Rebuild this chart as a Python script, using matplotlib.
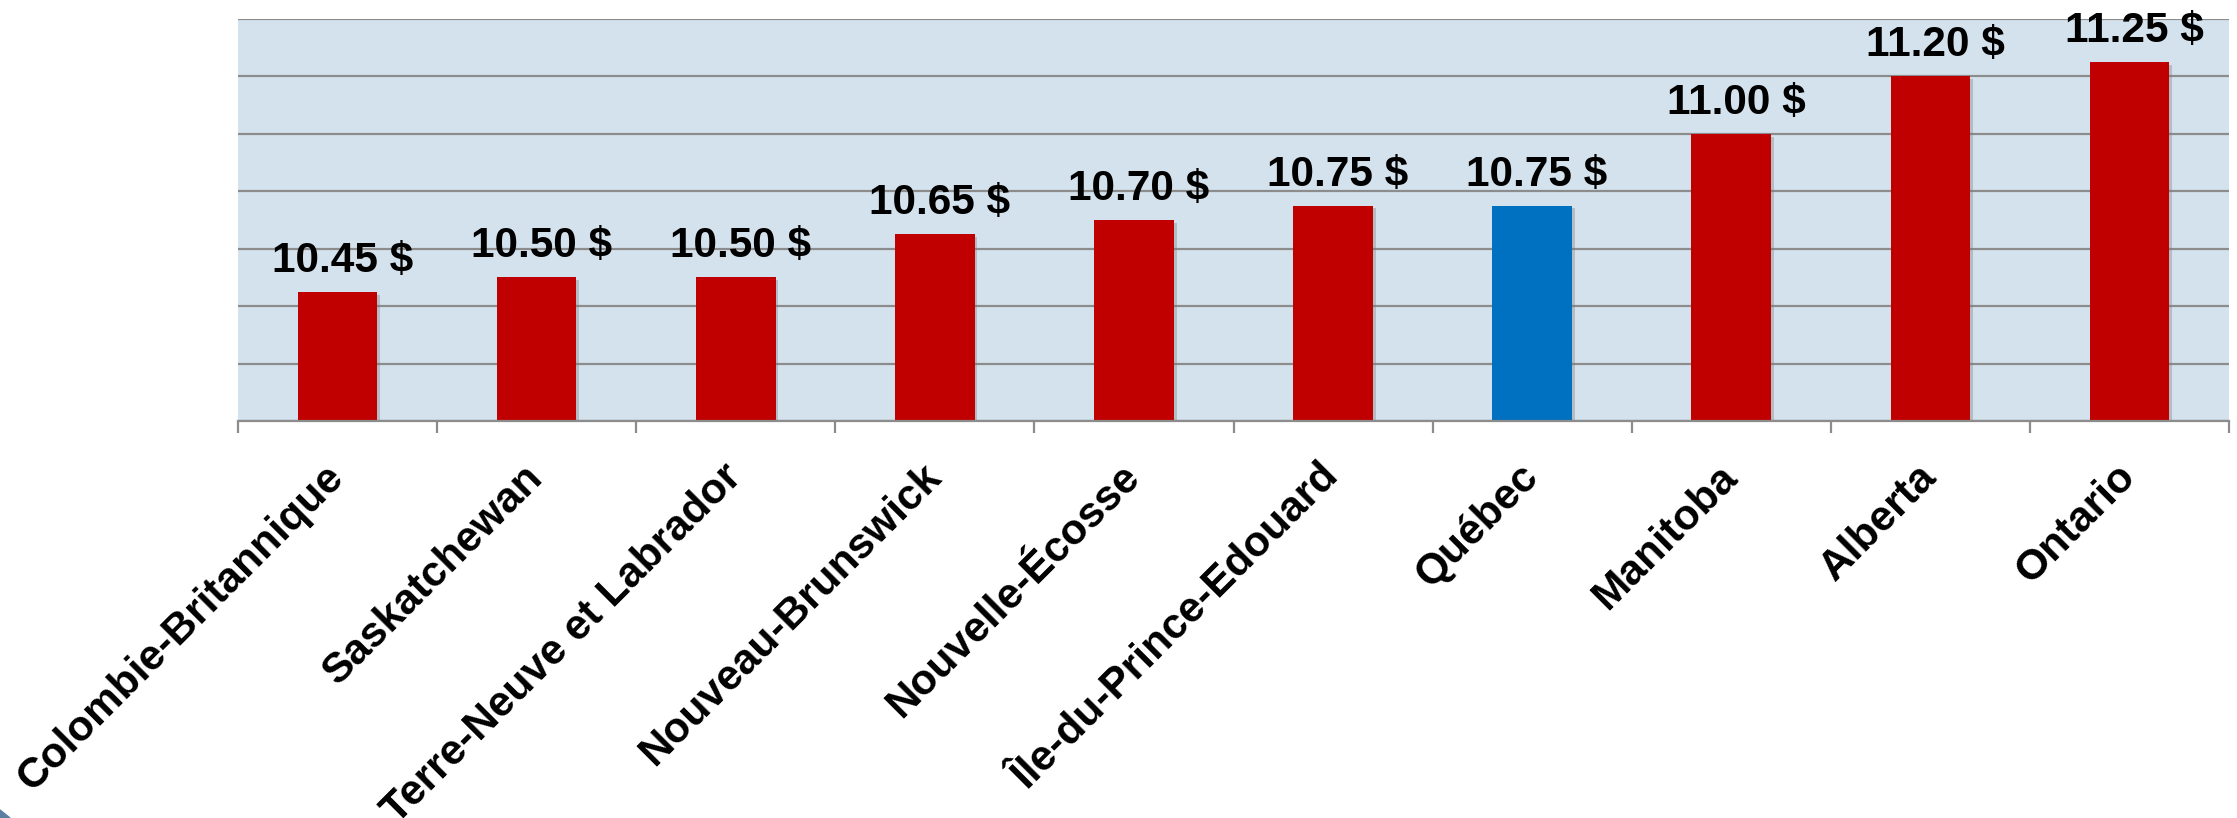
import numpy as np
import matplotlib
matplotlib.use("Agg")
import matplotlib.pyplot as plt
import matplotlib.patheffects as pe

# ---- data ----
provinces = ["Colombie-Britannique", "Saskatchewan", "Terre-Neuve et Labrador",
             "Nouveau-Brunswick", "Nouvelle-Écosse", "Île-du-Prince-Edouard",
             "Québec", "Manitoba", "Alberta", "Ontario"]
wages = [10.45, 10.50, 10.50, 10.65, 10.70, 10.75, 10.75, 11.00, 11.20, 11.25]
highlight = "Québec"

RED = "#C00000"
BLUE = "#0070C0"
BG = "#D4E2ED"
GRID = "#8C8C8C"

plt.rcParams['font.family'] = ['Liberation Sans', 'DejaVu Sans']

W, H, DPI = 2237, 818, 100
fig = plt.figure(figsize=(W / DPI, H / DPI), dpi=DPI)
fig.patch.set_facecolor("white")

left, right, top, bottom = 238, 2229, 19, 421
ax = fig.add_axes([left / W, 1 - bottom / H, (right - left) / W, (bottom - top) / H])
ax.set_facecolor(BG)

x = np.arange(len(provinces))
colors = [BLUE if p == highlight else RED for p in provinces]
ax.bar(x, wages, width=0.40, color=colors, zorder=3,
       path_effects=[pe.SimplePatchShadow(offset=(2, -2), shadow_rgbFace="#7a7a7a", alpha=0.35),
                     pe.Normal()])

for xi, v in zip(x, wages):
    ax.annotate(f"{v:.2f} $", (xi, v), xytext=(3.5, 8), textcoords="offset points",
                ha="center", va="bottom", fontsize=30.5, fontweight="bold", color="black",
                zorder=4, annotation_clip=False)

ax.set_xlim(-0.5, len(provinces) - 0.5)
ax.set_ylim(10.0, 11.4)
ax.set_yticks(np.arange(10.0, 11.41, 0.2))
ax.yaxis.grid(True, color=GRID, linewidth=1.6, zorder=1)
ax.set_axisbelow(True)
ax.tick_params(axis="y", left=False, labelleft=False)

for s in ["left", "right", "top"]:
    ax.spines[s].set_visible(False)
ax.spines["bottom"].set_color(GRID)
ax.spines["bottom"].set_linewidth(1.6)
ax.spines["bottom"].set_zorder(5)

ax.set_xticks(x)
ax.set_xticklabels(provinces, rotation=45, ha="right", va="center",
                   rotation_mode="anchor", fontsize=30.5, fontweight="bold")
ax.tick_params(axis="x", which="major", length=0, pad=36)
ax.set_xticks(np.arange(-0.5, len(provinces)), minor=True)
ax.tick_params(axis="x", which="minor", length=8.6, width=1.6, color=GRID)

# small decorative corner arc
corner = plt.Polygon([[0, 0], [0, 8 / H], [10 / W, 0]], closed=True,
                     transform=fig.transFigure, color="#5B7FA3", clip_on=False)
fig.patches.append(corner)

fig.savefig("out.png", dpi=DPI, facecolor="white")
